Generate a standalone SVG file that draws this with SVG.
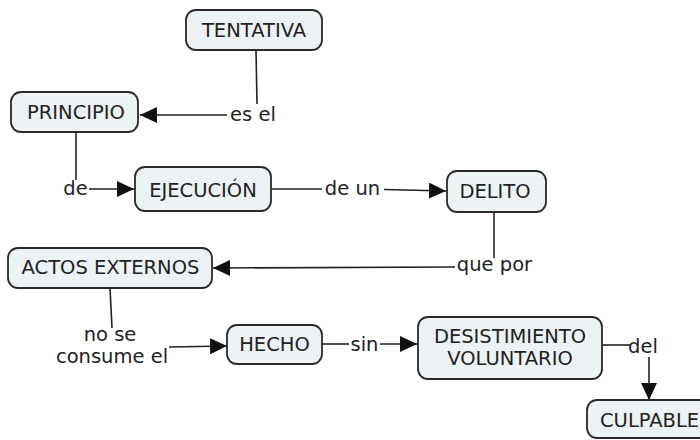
<svg xmlns="http://www.w3.org/2000/svg" width="700" height="440" viewBox="0 0 700 440">
  <style>
    .box { fill: #edf2f5; stroke: #2a2a2a; stroke-width: 1.8; }
    .t { font-family: "DejaVu Sans", Verdana, sans-serif; font-size: 19.5px; fill: #222; text-anchor: middle; }
    .lbl { font-family: "DejaVu Sans", Verdana, sans-serif; font-size: 19.5px; fill: #222; text-anchor: middle; }
    .c { fill: none; stroke: #222; stroke-width: 1.6; }
    .a { marker-end: url(#arr); }
  </style>
  <defs>
    <marker id="arr" markerUnits="userSpaceOnUse" markerWidth="18" markerHeight="16" refX="17" refY="8" orient="auto">
      <path d="M0,0 L17,8 L0,16 Z" fill="#111"/>
    </marker>
  </defs>
  <rect width="700" height="440" fill="#fff"/>

  <g id="connectors">
    <path class="c" d="M256,50 L257,104"/>
    <path class="c a" d="M227,115 L140,115"/>
    <path class="c" d="M76,133 L76,180"/>
    <path class="c a" d="M89,189 L134,189"/>
    <path class="c" d="M271,189 L322,189"/>
    <path class="c a" d="M384,189.5 L446,191"/>
    <path class="c" d="M494,212 L494,258"/>
    <path class="c a" d="M455,267 L213,268"/>
    <path class="c" d="M110,288 L112,328"/>
    <path class="c a" d="M169,347 L227,346"/>
    <path class="c" d="M322,344 L349,344"/>
    <path class="c a" d="M380,344 L417,344"/>
    <path class="c" d="M602,345 L631,345"/>
    <path class="c a" d="M649,357 L649,400"/>
  </g>

  <g id="labels">
    <text class="lbl" x="253" y="121">es el</text>
    <text class="lbl" x="75.5" y="195">de</text>
    <text class="lbl" x="352.5" y="195">de un</text>
    <text class="lbl" x="494.5" y="271">que por</text>
    <text class="lbl" x="110" y="341">no se</text>
    <text class="lbl" x="112" y="363">consume el</text>
    <text class="lbl" x="364.5" y="351">sin</text>
    <text class="lbl" x="643" y="353">del</text>
  </g>

  <g id="tentativa">
    <rect class="box" x="186" y="10" width="136" height="40" rx="10"/>
    <text class="t" x="254" y="37">TENTATIVA</text>
  </g>
  <g id="principio">
    <rect class="box" x="11" y="92" width="127" height="40" rx="10"/>
    <text class="t" x="76" y="119">PRINCIPIO</text>
  </g>
  <g id="ejecucion">
    <rect class="box" x="135" y="167" width="136" height="44" rx="10"/>
    <text class="t" x="203" y="197">EJECUCIÓN</text>
  </g>
  <g id="delito">
    <rect class="box" x="447" y="171" width="99" height="41" rx="10"/>
    <text class="t" x="495" y="198">DELITO</text>
  </g>
  <g id="actos-externos">
    <rect class="box" x="8" y="248" width="204" height="40" rx="10"/>
    <text class="t" x="110.5" y="274">ACTOS EXTERNOS</text>
  </g>
  <g id="hecho">
    <rect class="box" x="227" y="325" width="95" height="39" rx="10"/>
    <text class="t" x="274.5" y="351">HECHO</text>
  </g>
  <g id="desistimiento-voluntario">
    <rect class="box" x="418" y="317" width="184" height="62" rx="10"/>
    <text class="t" x="510" y="343">DESISTIMIENTO</text>
    <text class="t" x="510" y="365">VOLUNTARIO</text>
  </g>
  <g id="culpable">
    <rect class="box" x="587" y="400" width="125" height="38" rx="10"/>
    <text class="t" x="600" y="427" style="text-anchor:start">CULPABLE</text>
  </g>
</svg>
